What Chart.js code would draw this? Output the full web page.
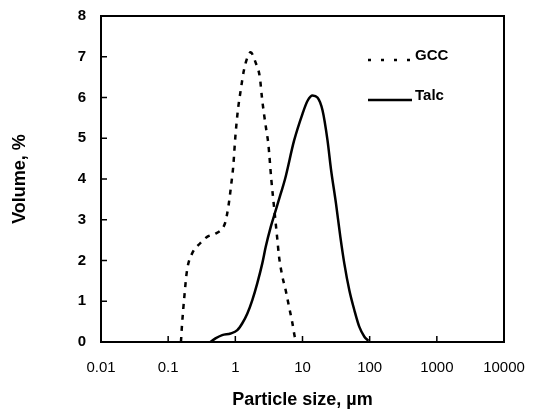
<!DOCTYPE html>
<html>
<head>
<meta charset="utf-8">
<script src="https://cdn.jsdelivr.net/npm/chart.js@4.4.1/dist/chart.umd.min.js"></script>
<style>
  html, body { margin: 0; padding: 0; background: #fff; }
  #wrap { width: 534px; height: 411px; position: relative; }
</style>
</head>
<body>
<div id="wrap"><canvas id="c"></canvas></div>
<script>
// ---- data ----
const gccSize = [0.155, 0.16, 0.174, 0.191, 0.227, 0.302, 0.38, 0.506, 0.637, 0.713, 0.80, 0.87, 0.93, 1.0, 1.09, 1.20, 1.34, 1.51, 1.69, 2.0, 2.32, 2.49, 2.67, 2.90, 3.10, 3.44, 3.86, 4.23, 4.48, 5.03, 5.62, 6.31, 7.08, 7.67, 8.2];
const gccVolume = [0, 0.37, 1.11, 1.76, 2.17, 2.43, 2.58, 2.66, 2.78, 2.95, 3.40, 3.88, 4.30, 5.03, 5.68, 6.17, 6.66, 6.98, 7.11, 6.86, 6.49, 6.0, 5.6, 5.19, 4.86, 3.97, 3.15, 2.50, 2.09, 1.60, 1.27, 0.86, 0.46, 0.13, 0];
const talcSize = [0.425, 0.506, 0.637, 0.85, 1.07, 1.27, 1.51, 1.79, 2.12, 2.52, 2.83, 3.36, 3.99, 4.74, 5.5, 7.49, 10, 11.9, 14.1, 16.7, 19.9, 23.6, 26.5, 31.5, 36.6, 41.9, 49.8, 59.2, 70.2, 83.4, 95.7];
const talcVolume = [0, 0.09, 0.17, 0.21, 0.29, 0.46, 0.70, 1.03, 1.44, 1.93, 2.33, 2.82, 3.23, 3.64, 4.0, 4.94, 5.60, 5.92, 6.05, 6.0, 5.68, 4.94, 4.25, 3.40, 2.58, 1.93, 1.27, 0.78, 0.37, 0.13, 0.03];
const seriesNames = ['GCC', 'Talc'];
const xTickValues = [0.01, 0.1, 1, 10, 100, 1000, 10000];
const xTickLabels = ['0.01', '0.1', '1', '10', '100', '1000', '10000'];
const yTickValues = [0, 1, 2, 3, 4, 5, 6, 7, 8];
const xTitle = 'Particle size, \u00b5m';
const yTitle = 'Volume, %';

const toPoints = (xs, ys) => xs.map((v, i) => ({ x: v, y: ys[i] }));

const FONT = '"Liberation Sans", Arial, sans-serif';

// frame + inward tick marks
const framePlugin = {
  id: 'frame',
  afterDraw(chart) {
    const { ctx, chartArea: a, scales: { x, y } } = chart;
    ctx.save();
    ctx.strokeStyle = '#000';
    ctx.lineWidth = 2;
    ctx.strokeRect(a.left, a.top, a.right - a.left, a.bottom - a.top);
    ctx.lineWidth = 1.5;
    ctx.beginPath();
    y.ticks.forEach(t => {
      const py = y.getPixelForValue(t.value);
      ctx.moveTo(a.left, py); ctx.lineTo(a.left + 6, py);
    });
    x.ticks.forEach(t => {
      const px = x.getPixelForValue(t.value);
      ctx.moveTo(px, a.bottom); ctx.lineTo(px, a.bottom - 6);
    });
    ctx.stroke();
    ctx.restore();
  }
};

// legend inside the plot area, top right
const insideLegend = {
  id: 'insideLegend',
  afterDraw(chart) {
    const { ctx, chartArea: a } = chart;
    const rows = [40, 80];
    ctx.save();
    chart.data.datasets.forEach((ds, i) => {
      const yy = a.top + rows[i];
      ctx.strokeStyle = '#000';
      ctx.lineWidth = 2.5;
      ctx.setLineDash(i === 0 ? [3, 10] : []);
      ctx.beginPath();
      ctx.moveTo(a.right - 136, yy + 4);
      ctx.lineTo(a.right - 92, yy + 4);
      ctx.stroke();
      ctx.setLineDash([]);
      ctx.fillStyle = '#000';
      ctx.font = 'bold 15px ' + FONT;
      ctx.textAlign = 'left';
      ctx.textBaseline = 'middle';
      ctx.fillText(ds.label, a.right - 89, yy);
    });
    ctx.restore();
  }
};

new Chart(document.getElementById('c'), {
  type: 'line',
  data: {
    datasets: [
      {
        label: seriesNames[0],
        data: toPoints(gccSize, gccVolume),
        borderColor: '#000',
        borderWidth: 2.5,
        borderDash: [5, 6],
        pointRadius: 0,
        fill: false,
        cubicInterpolationMode: 'monotone'
      },
      {
        label: seriesNames[1],
        data: toPoints(talcSize, talcVolume),
        borderColor: '#000',
        borderWidth: 2.5,
        pointRadius: 0,
        fill: false,
        cubicInterpolationMode: 'monotone'
      }
    ]
  },
  options: {
    responsive: true,
    maintainAspectRatio: false,
    animation: false,
    layout: { padding: { left: 0, right: 30, top: 9, bottom: 0 } },
    plugins: {
      legend: { display: false },
      tooltip: { enabled: false }
    },
    scales: {
      x: {
        type: 'logarithmic',
        min: 0.01,
        max: 10000,
        grid: { display: false },
        border: { display: false },
        afterBuildTicks(scale) { scale.ticks = xTickValues.map(v => ({ value: v })); },
        afterFit(scale) { scale.height = 69; },
        ticks: {
          color: '#000',
          font: { family: FONT, size: 15 },
          padding: 9,
          maxRotation: 0,
          autoSkip: false,
          callback: (v, i) => xTickLabels[i]
        },
        title: {
          display: true,
          text: xTitle,
          color: '#000',
          font: { family: FONT, size: 18, weight: 'bold' },
          padding: { top: 0, bottom: 0 }
        }
      },
      y: {
        min: 0,
        max: 8,
        grid: { display: false },
        border: { display: false },
        afterBuildTicks(scale) { scale.ticks = yTickValues.map(v => ({ value: v })); },
        afterFit(scale) { scale.width = 101; },
        ticks: {
          color: '#000',
          font: { family: FONT, size: 15, weight: 'bold' },
          padding: 7,
          callback: v => String(v)
        },
        title: {
          display: true,
          text: yTitle,
          color: '#000',
          font: { family: FONT, size: 18, weight: 'bold' },
          padding: { top: 9, bottom: 0 }
        }
      }
    }
  },
  plugins: [framePlugin, insideLegend]
});
</script>
</body>
</html>
